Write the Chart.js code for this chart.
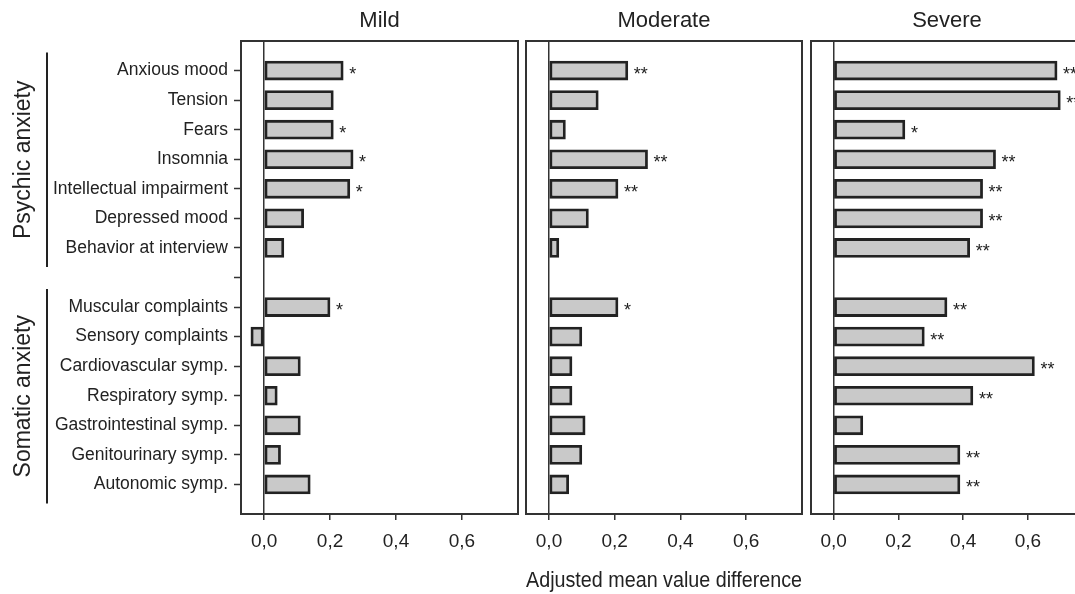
<!DOCTYPE html>
<html>
<head>
<meta charset="utf-8">
<script src="https://cdn.jsdelivr.net/npm/chart.js@4.4.1/dist/chart.umd.min.js"></script>
<style>
  html, body { margin: 0; padding: 0; background: #fff; overflow: hidden; }
  body { width: 1075px; height: 594px; position: relative; }
  .panel { position: absolute; top: 0; height: 594px; }
</style>
</head>
<body>
<div class="panel" style="left:0;width:522px"><canvas id="mild"></canvas></div>
<div class="panel" style="left:522px;width:284px"><canvas id="moderate"></canvas></div>
<div class="panel" style="left:806px;width:279px"><canvas id="severe"></canvas></div>
<script>
// rows of the figure, '' is the gap between the two groups
const categories = [
    'Anxious mood', 'Tension', 'Fears', 'Insomnia', 'Intellectual impairment',
    'Depressed mood', 'Behavior at interview', '',
    'Muscular complaints', 'Sensory complaints', 'Cardiovascular symp.',
    'Respiratory symp.', 'Gastrointestinal symp.', 'Genitourinary symp.', 'Autonomic symp.'
];

const mildValues     = [0.24, 0.21, 0.21, 0.27, 0.26, 0.12, 0.06, null, 0.20, -0.04, 0.11, 0.04, 0.11, 0.05, 0.14];
const moderateValues = [0.24, 0.15, 0.05, 0.30, 0.21, 0.12, 0.03, null, 0.21, 0.10, 0.07, 0.07, 0.11, 0.10, 0.06];
const severeValues   = [0.69, 0.70, 0.22, 0.50, 0.46, 0.46, 0.42, null, 0.35, 0.28, 0.62, 0.43, 0.09, 0.39, 0.39];

const mildStars     = ['*', '', '*', '*', '*', '', '', '', '*', '', '', '', '', '', ''];
const moderateStars = ['**', '', '', '**', '**', '', '', '', '*', '', '', '', '', '', ''];
const severeStars   = ['**', '**', '*', '**', '**', '**', '**', '', '**', '**', '**', '**', '', '**', '**'];

const groupLabels = ['Psychic anxiety', 'Somatic anxiety'];
const groupFirst  = ['Anxious mood', 'Muscular complaints'];
const groupLast   = ['Behavior at interview', 'Autonomic symp.'];

const xTicks = [0, 0.2, 0.4, 0.6];
const xMin = -0.07;
const xMax = 0.77;
const xTitle = 'Adjusted mean value difference';

Chart.defaults.font.family = 'Arial, "Liberation Sans", Helvetica, sans-serif';
Chart.defaults.color = '#222';

// one empty slot above and below so the rows sit one step in from the frame
const axisLabels = ['', ...categories, ''];
const pad = arr => [null, ...arr, null];

const panelBox = {
    id: 'panelBox',
    afterDraw(chart) {
        const a = chart.chartArea;
        const ctx = chart.ctx;
        ctx.save();
        ctx.strokeStyle = '#333';
        ctx.lineWidth = 2;
        ctx.strokeRect(a.left, a.top, a.right - a.left, a.bottom - a.top);
        ctx.restore();
    }
};

const stars = {
    id: 'stars',
    afterDatasetsDraw(chart, args, opts) {
        const ctx = chart.ctx;
        const meta = chart.getDatasetMeta(0);
        ctx.save();
        ctx.font = '18px Arial, "Liberation Sans", sans-serif';
        ctx.fillStyle = '#222';
        ctx.textBaseline = 'alphabetic';
        ctx.textAlign = 'left';
        meta.data.forEach((bar, i) => {
            const s = opts.labels[i - 1];
            if (!s) return;
            ctx.fillText(s, bar.x + 6, bar.y + 9);
        });
        ctx.restore();
    }
};

const groups = {
    id: 'groups',
    afterDraw(chart) {
        const ctx = chart.ctx;
        const y = chart.scales.y;
        ctx.save();
        ctx.strokeStyle = '#222';
        ctx.lineWidth = 2;
        ctx.fillStyle = '#222';
        ctx.font = '23px Arial, "Liberation Sans", sans-serif';
        ctx.textAlign = 'center';
        ctx.textBaseline = 'middle';
        groupLabels.forEach((g, k) => {
            const top = y.getPixelForValue(axisLabels.indexOf(groupFirst[k])) - 18;
            const bottom = y.getPixelForValue(axisLabels.indexOf(groupLast[k])) + 19;
            ctx.beginPath();
            ctx.moveTo(47, top);
            ctx.lineTo(47, bottom);
            ctx.stroke();
            ctx.save();
            ctx.translate(24, (top + bottom) / 2);
            ctx.rotate(-Math.PI / 2);
            ctx.fillText(g, 0, 0);
            ctx.restore();
        });
        ctx.restore();
    }
};

function makePanel(id, title, values, starLabels, opts) {
    const plugins = [panelBox, stars];
    if (opts.groups) plugins.push(groups);
    return new Chart(document.getElementById(id), {
        type: 'bar',
        data: {
            labels: axisLabels,
            datasets: [{
                data: pad(values),
                backgroundColor: '#c9c9c9',
                borderColor: '#222',
                borderWidth: 2.8,
                borderSkipped: false,
                barThickness: 19
            }]
        },
        plugins: plugins,
        options: {
            indexAxis: 'y',
            responsive: true,
            maintainAspectRatio: false,
            animation: false,
            layout: { padding: opts.padding },
            plugins: {
                legend: { display: false },
                tooltip: { enabled: false },
                title: {
                    display: true,
                    text: title,
                    fullSize: false,
                    font: { size: 22, weight: 'normal' },
                    color: '#222',
                    padding: { top: 8, bottom: 6.6 }
                },
                stars: { labels: starLabels }
            },
            scales: {
                x: {
                    type: 'linear',
                    min: xMin,
                    max: xMax,
                    afterBuildTicks: scale => { scale.ticks = xTicks.map(v => ({ value: v })); },
                    afterFit: scale => { scale.height = 80; },
                    border: { display: false },
                    grid: {
                        drawOnChartArea: true,
                        color: c => (c.tick && c.tick.value === 0) ? '#333' : 'rgba(0,0,0,0)',
                        lineWidth: 1.5,
                        tickColor: '#333',
                        tickLength: 6,
                        tickWidth: 1.5
                    },
                    ticks: {
                        padding: 10,
                        font: { size: 19 },
                        color: '#222',
                        callback: v => v.toFixed(1).replace('.', ',')
                    },
                    title: {
                        display: !!opts.xTitle,
                        text: xTitle,
                        font: { size: 22 },
                        color: '#222',
                        padding: { top: 0, bottom: 0 }
                    }
                },
                y: {
                    type: 'category',
                    display: !!opts.showY,
                    offset: false,
                    afterFit: scale => { if (opts.showY) scale.width = 241; },
                    border: { display: false },
                    grid: {
                        offset: false,
                        drawOnChartArea: false,
                        tickLength: 7,
                        tickWidth: 1.5,
                        tickColor: c => (c.index === 0 || c.index === axisLabels.length - 1) ? 'rgba(0,0,0,0)' : '#333'
                    },
                    ticks: {
                        padding: 6,
                        autoSkip: false,
                        font: { size: 17.5 },
                        color: '#222'
                    }
                }
            }
        }
    });
}

makePanel('mild', 'Mild', mildValues, mildStars,
    { showY: true, groups: true, padding: { left: 0, right: 4, top: 0, bottom: 0 } });
makePanel('moderate', 'Moderate', moderateValues, moderateStars,
    { xTitle: true, padding: { left: 4, right: 4, top: 0, bottom: 0 } });
makePanel('severe', 'Severe', severeValues, severeStars,
    { padding: { left: 5, right: 2, top: 0, bottom: 0 } });
</script>
</body>
</html>
